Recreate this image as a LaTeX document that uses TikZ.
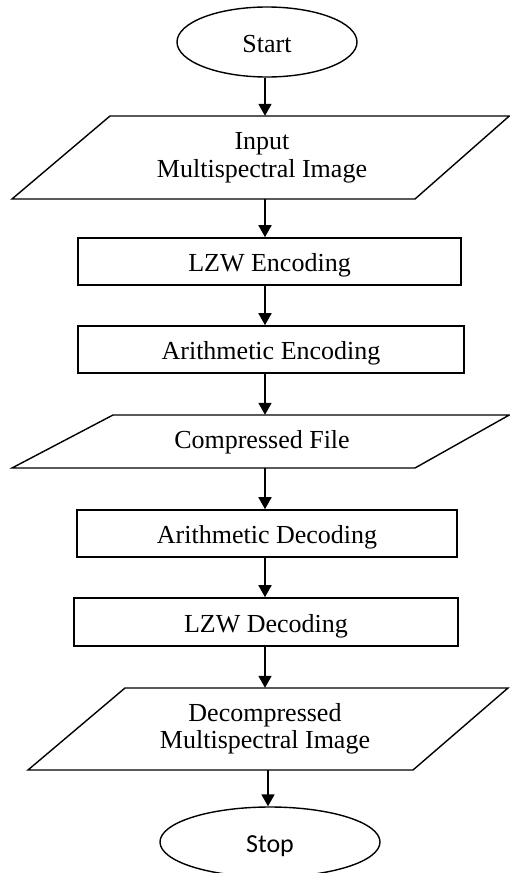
\documentclass[tikz,border=0pt]{standalone}
\usepackage{fontspec}
\setmainfont{Liberation Serif}
\newfontfamily\stopfont{Carlito}
\usetikzlibrary{arrows.meta,shapes.geometric}
\begin{document}
\begin{tikzpicture}[x=1pt,y=-1pt,
  txt/.style={font=\fontsize{26}{28}\selectfont, inner sep=0pt, text height=25pt, text depth=5pt},
  terminal/.style={txt, draw, ellipse, line width=1.4pt, minimum height=70pt},
  procbox/.style={txt, draw, rectangle, line width=1.6pt, minimum height=47pt},
  iozone/.style={inner sep=0pt},
  ioshape/.style={line width=1.4pt, line join=miter},
  flow/.style={draw, line width=1.8pt, -{Triangle[length=12pt,width=13pt]}}]

\useasboundingbox (0,0) rectangle (510,873);

% guide columns for the vertical connectors
\coordinate (col) at (265,0);
\coordinate (colb) at (268,0);

% terminals, process boxes and data (parallelogram) blocks
\node[terminal, minimum width=180pt] (start) at (267,42) {Start};

\node[iozone, minimum width=300pt, minimum height=83pt, align=center,
      font=\fontsize{26}{28}\selectfont] (input) at (262,157.5)
      {Input\\Multispectral Image};
\draw[ioshape] (110,116) -- (509.3,116) -- (415,199) -- (12,199) -- cycle;

\node[procbox, minimum width=383pt] (lzwenc) at (269.5,261.5) {LZW Encoding};
\node[procbox, minimum width=386pt] (arienc) at (271,349.5) {Arithmetic Encoding};

\node[iozone, txt, minimum width=300pt, minimum height=53pt,
      text height=23pt, text depth=10pt] (comp) at (262,441.5) {Compressed File};
\draw[ioshape] (113,415) -- (509.3,415) -- (415,468) -- (12,468) -- cycle;

\node[procbox, minimum width=380pt] (aridec) at (267,533.5) {Arithmetic Decoding};
\node[procbox, minimum width=384pt, minimum height=48pt] (lzwdec) at (266,622) {LZW Decoding};

\node[iozone, minimum width=300pt, minimum height=82pt, align=center,
      font=\fontsize{26}{26.5}\selectfont] (decomp) at (265,729)
      {Decompressed\\Multispectral Image};
\draw[ioshape] (125,688) -- (508,688) -- (413,770) -- (28,770) -- cycle;

\node[terminal, minimum width=220pt, font=\stopfont\fontsize{26}{30}\selectfont]
      (stop) at (270,842) {Stop};

% connectors
\draw[flow] (start.south -| col) -- (input.north -| col);
\draw[flow] (input.south -| col) -- (lzwenc.north -| col);
\draw[flow] (lzwenc.south -| col) -- (arienc.north -| col);
\draw[flow] (arienc.south -| col) -- (comp.north -| col);
\draw[flow] (comp.south -| col) -- (aridec.north -| col);
\draw[flow] (aridec.south -| col) -- (lzwdec.north -| col);
\draw[flow] (lzwdec.south -| col) -- (decomp.north -| col);
\draw[flow] (decomp.south -| colb) -- (stop.north -| colb);
\end{tikzpicture}
\end{document}
